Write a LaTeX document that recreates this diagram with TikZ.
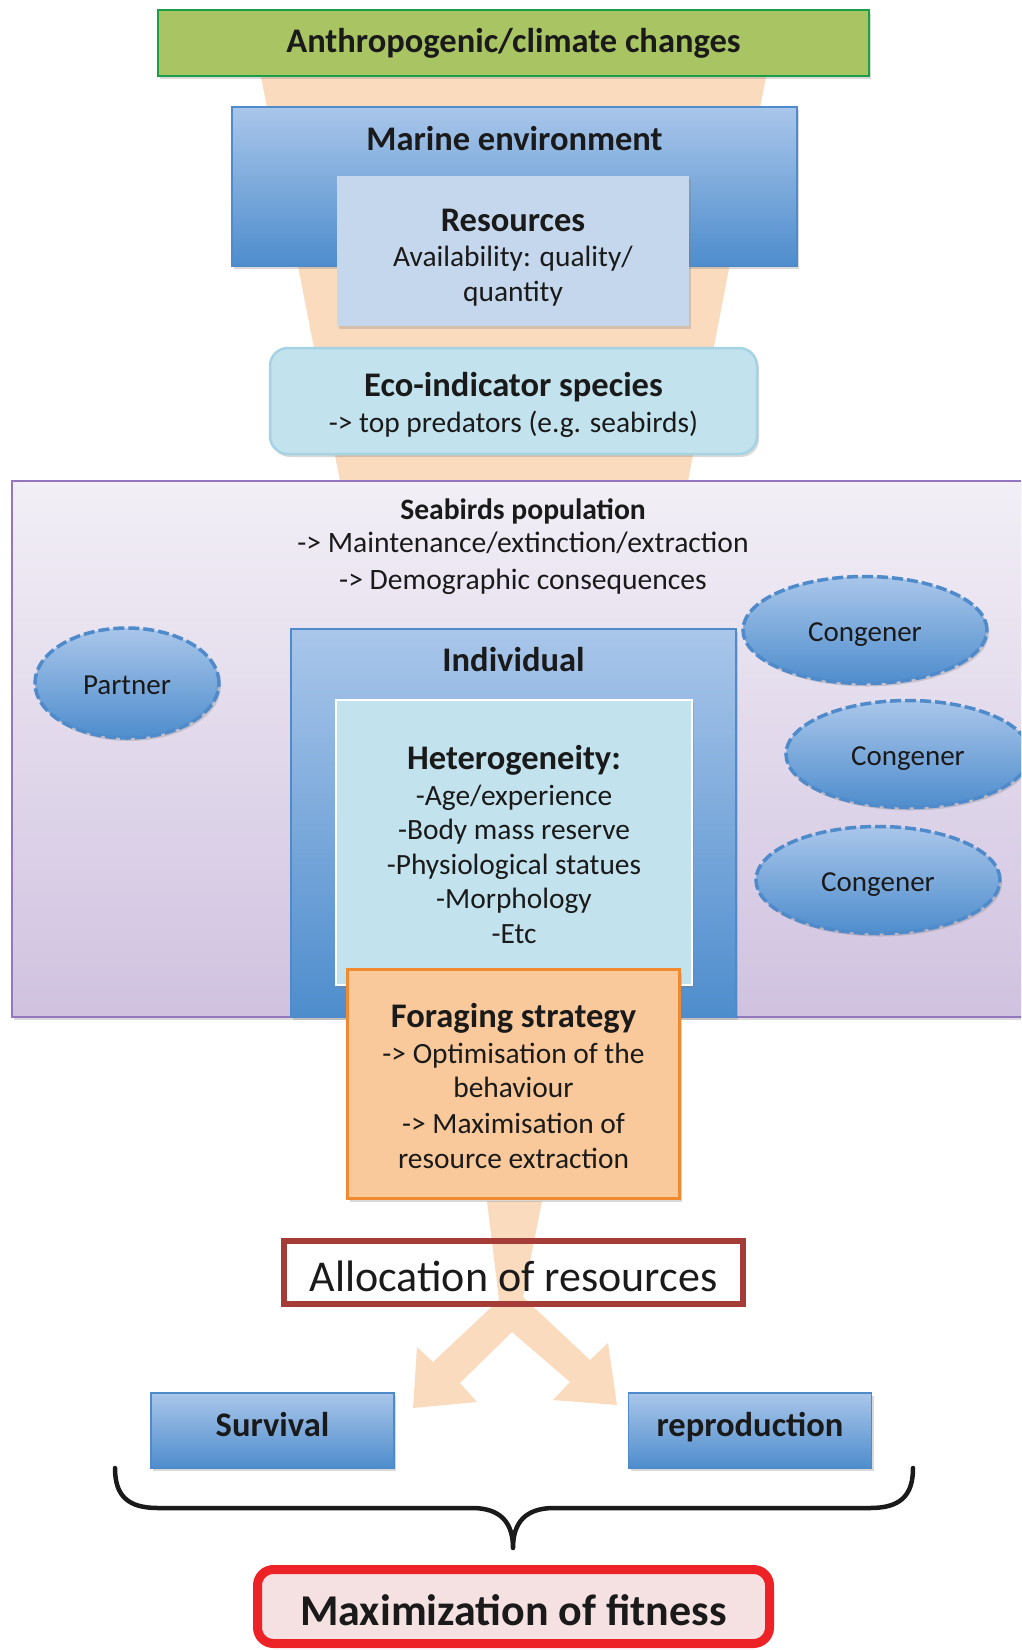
\documentclass[tikz,border=0pt]{standalone}
\usepackage{fontspec}
\setmainfont{Carlito}
\usepackage{tikz}
\usetikzlibrary{positioning,shapes,shadows}
\definecolor{LeafGreen}{HTML}{A9C463}
\definecolor{LeafBorder}{HTML}{1C9E48}
\definecolor{Peach}{HTML}{FBDBBE}
\definecolor{SkyTop}{HTML}{A9C6EA}
\definecolor{SkyBottom}{HTML}{4E8DCD}
\definecolor{SkyBorder}{HTML}{4F8ACB}
\definecolor{Steel}{HTML}{C5D7EC}
\definecolor{Aqua}{HTML}{C2E2ED}
\definecolor{AquaBorder}{HTML}{A5D3E3}
\definecolor{LilacTop}{HTML}{F2EFF6}
\definecolor{LilacBottom}{HTML}{D0C2E0}
\definecolor{LilacBorder}{HTML}{9478BF}
\definecolor{Apricot}{HTML}{FAC99B}
\definecolor{ApricotBorder}{HTML}{F08A30}
\definecolor{Brick}{HTML}{A63C38}
\definecolor{Blush}{HTML}{F5E1E1}
\definecolor{Scarlet}{HTML}{EC2227}
\definecolor{Ink}{HTML}{1A1A1A}
\tikzstyle{lifted} = [drop shadow={opacity=0.3, shadow xshift=2pt, shadow yshift=-3pt}]
\tikzstyle{box} = [rectangle, text=Ink, align=center, inner sep=0pt]
\tikzstyle{title} = [text=Ink, inner sep=0pt, font=\fontsize{34.5}{40}\selectfont\bfseries]
\tikzstyle{body} = [text=Ink, inner sep=0pt, align=center, font=\fontsize{29.4}{34.5}\selectfont]
\tikzstyle{green box} = [box, lifted, draw=LeafBorder, line width=2pt, fill=LeafGreen,
font=\fontsize{34.5}{40}\selectfont\bfseries]
\tikzstyle{blue box} = [box, lifted, draw=SkyBorder, line width=1.5pt,
top color=SkyTop, bottom color=SkyBottom]
\tikzstyle{outcome} = [blue box, font=\fontsize{34.5}{40}\selectfont\bfseries,
minimum width=243pt, minimum height=75pt, text height=22pt, text depth=9.6pt]
\tikzstyle{steel box} = [box, lifted, fill=Steel]
\tikzstyle{eco box} = [box, lifted, rounded corners=18pt, draw=AquaBorder, line width=2.5pt, fill=Aqua]
\tikzstyle{lilac box} = [box, lifted, draw=LilacBorder, line width=2pt,
top color=LilacTop, bottom color=LilacBottom]
\tikzstyle{aqua box} = [box, lifted, draw=white, line width=2pt, fill=Aqua]
\tikzstyle{apricot box} = [box, lifted, draw=ApricotBorder, line width=2.5pt, fill=Apricot]
\tikzstyle{mate} = [ellipse, lifted, draw=SkyBorder, line width=3.5pt, dash pattern=on 11pt off 4pt,
top color=SkyTop, bottom color=SkyBottom, text=Ink, inner sep=0pt,
font=\fontsize{29}{34}\selectfont, text height=28pt, text depth=6pt]
\tikzstyle{brace} = [draw=Ink, line width=4.5pt, line join=round, line cap=round]
\newcommand{\boxhead}[1]{{\fontsize{34.5}{40}\selectfont\bfseries #1}}

\begin{document}
\begin{tikzpicture}[x=1pt, y=-1pt]
	\useasboundingbox (0,0) rectangle (1021,1650);
	\clip (0,0) rectangle (1021,1650);
	% funnel behind the upper boxes
	\fill[Peach] (261,77) -- (766,77) -- (688,481) -- (340,481) -- cycle;

	\node[green box, minimum width=711pt, minimum height=66pt] (changes) at (513.5,43) {Anthropogenic/climate changes};
	\node[blue box, minimum width=565pt, minimum height=159pt] (marine) at (514.5,186.5) {};
	\node[title, anchor=base] (marinetitle) at (514.5,150) {Marine environment};
	\node[steel box, minimum width=352pt, minimum height=150pt] (resources) at (513,251) {};
	\node[body, anchor=base] (resourcestext) at (513,301) {\boxhead{Resources}\\[1pt] Availability: quality/\\ quantity};
	\node[eco box, minimum width=487pt, minimum height=106pt] (eco) at (513.5,401) {};
	\node[body, anchor=base] (ecotext) at (513.5,432) {\boxhead{Eco-indicator species}\\[1pt] -> top predators (e.g. seabirds)};

	\node[lilac box, minimum width=1028pt, minimum height=536pt] (population) at (526,749) {};
	\node[body, anchor=base, font=\fontsize{29.6}{33}\selectfont] (populationtext) at (523,589) {{\bfseries Seabirds population}\\ -> Maintenance/extinction/extraction\\[4pt] -> Demographic consequences};
	\node[mate, minimum width=184pt, minimum height=110pt] (partner) at (127,683) {Partner};
	\node[mate, minimum width=244pt, minimum height=107pt] (congenerA) at (865,630) {Congener};
	\node[mate, minimum width=244pt, minimum height=107pt] (congenerB) at (908,754) {Congener};
	\node[mate, minimum width=244pt, minimum height=107pt] (congenerC) at (878,880) {Congener};

	\node[blue box, minimum width=445pt, minimum height=388pt] (individual) at (513.5,823) {};
	\node[title, anchor=base] (individualtitle) at (513.5,671) {Individual};
	\node[aqua box, minimum width=356pt, minimum height=285pt] (hetero) at (514,842.5) {};
	\node[body, anchor=base] (heterotext) at (514,943) {\boxhead{Heterogeneity:}\\[1.5pt] -Age/experience\\ -Body mass reserve\\ -Physiological statues\\ -Morphology\\ -Etc};

	% split arrow from foraging to survival and reproduction
	\fill[Peach] (487,1201) -- (542,1201) -- (523,1297) -- (590,1360) -- (608,1343) -- (617,1405) -- (553,1400) -- (570,1382)
		-- (512,1332) -- (460,1383) -- (477,1402) -- (413,1408) -- (417,1347) -- (433,1362) -- (499,1300) -- cycle;

	\node[apricot box, minimum width=332pt, minimum height=229pt] (foraging) at (513.5,1084) {};
	\node[body, anchor=base] (foragingtext) at (513.5,1168) {\boxhead{Foraging strategy}\\[1pt] -> Optimisation of the\\ behaviour\\[1.5pt] -> Maximisation of\\ resource extraction};
	\node[box, draw=Brick, line width=6pt, minimum width=459pt, minimum height=63pt,
		font=\fontsize{44}{50}\selectfont, text height=38pt, text depth=1pt] (allocation) at (513.5,1272.5) {Allocation of resources};

	\node[outcome] (survival) at (272.5,1430.5) {Survival};
	\node[outcome, right=233pt of survival] (reproduction) {reproduction};

	\draw[brace] (115,1468) .. controls (115,1496) and (128,1508) .. (158,1508) -- (472,1508)
		.. controls (500,1508) and (513,1522) .. (513,1548) .. controls (513,1522) and (526,1508) .. (554,1508)
		-- (870,1508) .. controls (900,1508) and (913,1496) .. (913,1468);
	\node[box, draw=Scarlet, fill=Blush, line width=9pt, rounded corners=16pt, minimum width=512pt, minimum height=74pt,
		font=\fontsize{44}{50}\selectfont\bfseries, text height=38pt, text depth=0.6pt] (fitness) at (513.5,1606.5) {Maximization of fitness};
\end{tikzpicture}
\end{document}
